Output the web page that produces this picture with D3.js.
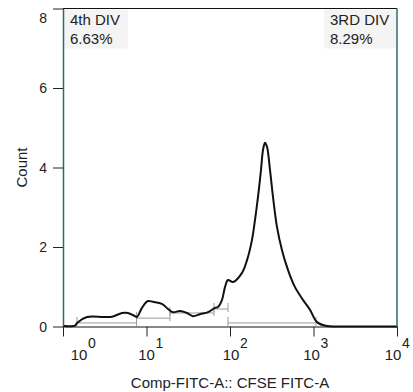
<!DOCTYPE html>
<html>
<head>
<meta charset="utf-8">
<script src="https://cdn.jsdelivr.net/npm/d3@7"></script>
<style>
  body { margin: 0; background: #fff; }
  svg { font-family: "Liberation Sans", Arial, sans-serif; }
</style>
</head>
<body>
<svg id="chart" width="413" height="392"></svg>
<script>
// Histogram trace: fluorescence (linear value) and count
var fluor = [1.0, 1.39, 1.47, 1.94, 3.01, 3.65, 3.97, 5.09, 6.0, 7.28, 7.69, 8.83, 10.4, 11.96,
  15.3, 18.1, 20.8, 25.2, 30.5, 36.1, 43.7, 54.5, 66.1, 71.8, 80.2, 87.1, 94.6, 108.6, 139.3,
  159.9, 183.4, 199.3, 216.4, 235.1, 248.4, 262.5, 277.4, 301.3, 327.3, 365.6, 419.6, 495.5,
  600.3, 748.4, 907.8, 1101, 1452, 2076, 10000];
var counts = [0.02, 0.02, 0.09, 0.24, 0.24, 0.24, 0.25, 0.34, 0.34, 0.26, 0.24, 0.47, 0.64, 0.62,
  0.57, 0.44, 0.36, 0.39, 0.34, 0.26, 0.31, 0.36, 0.47, 0.49, 0.67, 0.99, 1.17, 1.12, 1.35,
  1.67, 2.18, 2.68, 3.26, 3.94, 4.44, 4.62, 4.52, 3.94, 3.26, 2.50, 1.92, 1.42,
  0.99, 0.67, 0.42, 0.11, 0.01, 0, 0];

// Bracket gates: start, end, level (count)
var gateStart = [1.47, 7.6, 19.1, 64.3, 94.6];
var gateEnd = [7.6, 19.1, 64.3, 94.6, 1070];
var gateLevel = [0.09, 0.21, 0.34, 0.44, 0.09];

var yTicks = [0, 2, 4, 6, 8];
var xDecades = [0, 1, 2, 3, 4];

var gateNames = ["4th DIV", "3RD DIV"];
var gatePercents = ["6.63%", "8.29%"];

var margin = { left: 63, right: 16, top: 8.5, bottom: 65.5 };
var width = 413, height = 392;

var svg = d3.select("#chart");

var x = d3.scaleLog().domain([1, 10000]).range([margin.left, width - margin.right]);
var y = d3.scaleLinear().domain([0, 8]).range([height - margin.bottom, margin.top]);

var x0 = x.range()[0], x1 = x.range()[1];
var y0 = y.range()[0], y1 = y.range()[1];

// Shaded label boxes
svg.append("rect").attr("x", x0 + 1).attr("y", y1 + 1).attr("width", 64).attr("height", 39).attr("fill", "#f4f4f4");
svg.append("rect").attr("x", x1 - 73).attr("y", y1 + 1).attr("width", 72).attr("height", 39).attr("fill", "#f4f4f4");

// Gates
var gates = svg.append("g").attr("stroke", "#9a9a9a").attr("stroke-width", 1).attr("fill", "none");
gateStart.forEach(function(s, i) {
  var gy = y(gateLevel[i]);
  gates.append("line").attr("x1", x(s)).attr("x2", x(gateEnd[i])).attr("y1", gy).attr("y2", gy);
  [s, gateEnd[i]].forEach(function(v) {
    gates.append("line").attr("x1", x(v)).attr("x2", x(v)).attr("y1", gy - 6).attr("y2", gy + 3);
  });
});

// Histogram curve
var line = d3.line()
  .x(function(d) { return x(d[0]); })
  .y(function(d) { return y(d[1]); })
  .curve(d3.curveCatmullRom);

svg.append("path")
  .datum(d3.zip(fluor, counts))
  .attr("d", line)
  .attr("fill", "none")
  .attr("stroke", "#111")
  .attr("stroke-width", 2);

// Frame
svg.append("line").attr("x1", x0).attr("x2", x1).attr("y1", y1).attr("y2", y1).attr("stroke", "#111");
svg.append("line").attr("x1", x1).attr("x2", x1).attr("y1", y1).attr("y2", y0).attr("stroke", "#2e6a6a").attr("stroke-width", 1.5);

// Y axis with half-unit minor ticks
var yAxis = svg.append("g").attr("transform", "translate(" + x0 + ",0)");
yAxis.call(d3.axisLeft(y).tickValues(d3.range(0, 8.01, 0.5)).tickSize(5).tickFormat(""))
  .call(function(g) { g.select(".domain").remove(); });
yAxis.call(d3.axisLeft(y).tickValues(yTicks).tickSize(10).tickSizeOuter(0).tickFormat(""))
  .call(function(g) { g.select(".domain").attr("stroke", "#2e6a6a").attr("stroke-width", 1.5); });
yAxis.selectAll(".tick line").attr("stroke", "#222");

yTicks.forEach(function(v) {
  svg.append("text")
    .attr("x", x0 - 16).attr("y", y(v) + 5 + (v === 8 ? 9 : 0))
    .attr("text-anchor", "end").attr("font-size", 14).attr("fill", "#222")
    .text(v);
});

// X axis with log minor ticks
var minors = [];
xDecades.slice(0, -1).forEach(function(d) {
  for (var k = 2; k < 10; k++) minors.push(k * Math.pow(10, d));
});
var xAxis = svg.append("g").attr("transform", "translate(0," + y0 + ")");
xAxis.call(d3.axisBottom(x).tickValues(minors).tickSize(6).tickFormat(""))
  .call(function(g) { g.select(".domain").remove(); });
xAxis.call(d3.axisBottom(x).tickValues(xDecades.map(function(d) { return Math.pow(10, d); })).tickSize(10).tickSizeOuter(0).tickFormat(""))
  .call(function(g) { g.select(".domain").attr("stroke", "#111"); });
xAxis.selectAll(".tick line").attr("stroke", "#222");

var labelShift = [16, 0, 1, -2, -4];
xDecades.forEach(function(d, i) {
  var cx = x(Math.pow(10, d)) + labelShift[i];
  svg.append("text")
    .attr("x", cx).attr("y", 360)
    .attr("text-anchor", "middle").attr("font-size", 15).attr("fill", "#222")
    .text("10");
  svg.append("text")
    .attr("x", cx + 9).attr("y", 348)
    .attr("font-size", 14).attr("fill", "#222")
    .text(d);
});

// Axis titles
svg.append("text")
  .attr("x", (x0 + x1) / 2).attr("y", 388)
  .attr("text-anchor", "middle").attr("font-size", 15).attr("fill", "#222")
  .text("Comp-FITC-A:: CFSE FITC-A");
svg.append("text")
  .attr("transform", "translate(27," + ((y0 + y1) / 2) + ") rotate(-90)")
  .attr("text-anchor", "middle").attr("font-size", 15).attr("fill", "#222")
  .text("Count");

// Gate labels
svg.append("text").attr("x", x0 + 7).attr("y", 25).attr("font-size", 15).attr("fill", "#222").text(gateNames[0]);
svg.append("text").attr("x", x0 + 7).attr("y", 44).attr("font-size", 15).attr("fill", "#222").text(gatePercents[0]);
svg.append("text").attr("x", x1 - 67).attr("y", 25).attr("font-size", 15).attr("fill", "#222").text(gateNames[1]);
svg.append("text").attr("x", x1 - 67).attr("y", 44).attr("font-size", 15).attr("fill", "#222").text(gatePercents[1]);
</script>
</body>
</html>
